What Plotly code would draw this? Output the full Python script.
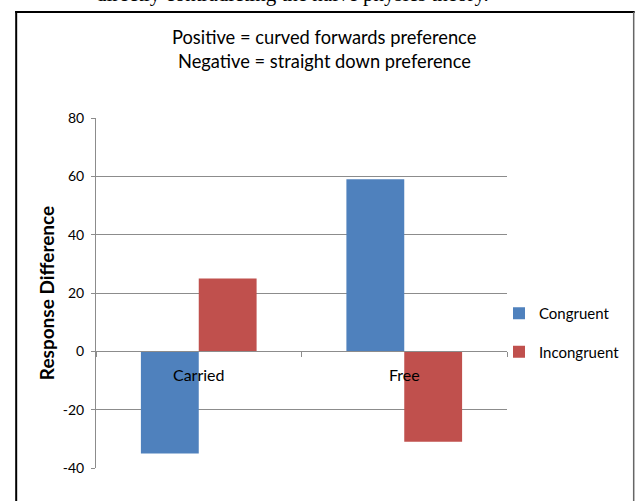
import plotly.graph_objects as go

categories = ["Carried", "Free"]
congruent = [-35, 59]
incongruent = [25, -31]
y_ticks = [-40, -20, 0, 20, 40, 60, 80]

BLUE = "#4F81BD"
RED = "#C0504D"
GRID = "#8C8C8C"
FONT = "Lato"

W, H = 636, 501
L, R, T, B = 96, 128, 118, 33
pw, ph = W - L - R, H - T - B
ymin, ymax = -40, 80

def px(x):
    return (x - L) / pw

def py(y):
    return (H - B - y) / ph

fig = go.Figure()
fig.add_trace(go.Bar(name="Congruent", x=categories, y=congruent, legendgroup="a",
                     marker=dict(color=BLUE, line=dict(width=0))))
fig.add_trace(go.Bar(name="Incongruent", x=categories, y=incongruent, legendgroup="b",
                     marker=dict(color=RED, line=dict(width=0))))

fig.update_layout(
    width=W, height=H,
    margin=dict(l=L, r=R, t=T, b=B, pad=0),
    paper_bgcolor="white", plot_bgcolor="white",
    barmode="group", bargap=0.437, bargroupgap=0,
    font=dict(family=FONT, color="black"),
    showlegend=True,
    legend=dict(x=px(499), y=py(297), xanchor="left", yanchor="top",
                font=dict(size=15, family=FONT), tracegroupgap=16,
                traceorder="grouped", bgcolor="rgba(0,0,0,0)"),
    xaxis=dict(
        anchor="free", position=(0 - ymin) / (ymax - ymin),
        showline=True, linecolor=GRID, linewidth=1,
        ticks="outside", tickson="boundaries", ticklen=5, tickcolor=GRID,
        ticklabelstandoff=9,
        tickfont=dict(size=16, family=FONT),
        showgrid=False, zeroline=False,
    ),
    yaxis=dict(
        range=[ymin, ymax], tickvals=y_ticks, ticktext=[str(v) for v in y_ticks],
        showline=True, linecolor=GRID, linewidth=1,
        ticks="outside", ticklen=4, tickcolor=GRID,
        ticklabelstandoff=4,
        tickfont=dict(size=14, family=FONT),
        showgrid=True, gridcolor=GRID, gridwidth=1,
        zeroline=False,
        title=dict(text="<b>Response Difference</b>", font=dict(size=19, family=FONT),
                   standoff=3),
    ),
)

fig.add_annotation(text="Positive = curved forwards preference", xref="paper", yref="paper",
                   x=px(325), y=py(37), xanchor="center", yanchor="middle",
                   showarrow=False, font=dict(size=18.3, family=FONT))
fig.add_annotation(text="Negative = straight down preference", xref="paper", yref="paper",
                   x=px(325), y=py(61), xanchor="center", yanchor="middle",
                   showarrow=False, font=dict(size=18.3, family=FONT))
fig.add_annotation(text="directly contradicting the naive physics theory.", xref="paper", yref="paper",
                   x=px(492), y=py(-6), xanchor="right", yanchor="middle",
                   showarrow=False, font=dict(size=21, family="Liberation Serif"))

# frame
fig.add_shape(type="line", xref="paper", yref="paper", x0=px(16), x1=px(16), y0=py(11), y1=py(510),
              line=dict(color="black", width=2))
fig.add_shape(type="line", xref="paper", yref="paper", x0=px(15), x1=px(636), y0=py(12), y1=py(12),
              line=dict(color="black", width=2))
fig.add_shape(type="line", xref="paper", yref="paper", x0=px(635), x1=px(635), y0=py(12), y1=py(510),
              line=dict(color="#666666", width=1.5))

fig.write_html("out.html", config={"displayModeBar": False},
               post_script="document.body.style.margin='0';")
